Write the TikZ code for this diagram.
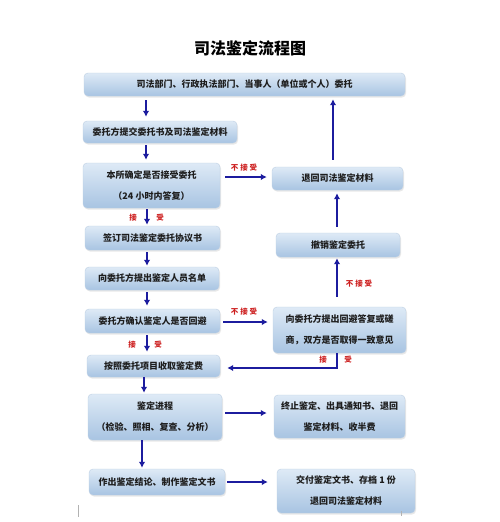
\documentclass[tikz,border=0pt]{standalone}
\usepackage{fontspec}
\setmainfont{Noto Sans CJK SC}
\newfontfamily\redfont[LetterSpace=25]{Noto Sans CJK SC}
\usetikzlibrary{arrows.meta,shadows,calc}
\definecolor{boxtop}{RGB}{222,234,246}
\definecolor{boxbot}{RGB}{168,196,226}
\definecolor{boxline}{RGB}{190,208,228}
\definecolor{arrblue}{RGB}{28,28,158}
\definecolor{lblred}{RGB}{205,30,30}
\definecolor{txt}{RGB}{30,30,30}
\tikzset{
  flowbox/.style={rectangle, rounded corners=4pt, top color=boxtop, bottom color=boxbot,
    draw=boxline, line width=0.4pt, inner sep=0pt, align=center, text=txt,
    font=\fontsize{9}{21}\selectfont\bfseries,
    drop shadow={shadow xshift=1pt, shadow yshift=-1.5pt, opacity=0.18}},
  arr/.style={draw=arrblue, line width=2.4pt, -{Latex[length=6pt,width=6.5pt]}},
  lbl/.style={text=lblred, font=\fontsize{7.5}{9}\selectfont\bfseries\redfont, inner sep=0pt},
  lblc/.style={text=lblred, font=\fontsize{7.5}{9}\selectfont\bfseries, inner sep=0pt},
}
\begin{document}
\begin{tikzpicture}[x=1pt,y=-1pt]
\useasboundingbox[fill=white] (0,0) rectangle (500,522);
% title
\node[font=\fontsize{16}{18}\selectfont\bfseries, text=black] (title) at (250,48) {司法鉴定流程图};
% left column
\node[flowbox, minimum width=321pt, minimum height=23pt] (b1) at (244.5,84.5) {司法部门、行政执法部门、当事人（单位或个人）委托};
\node[flowbox, minimum width=154pt, minimum height=22pt] (b2) at (160,132) {委托方提交委托书及司法鉴定材料};
\node[flowbox, minimum width=137pt, minimum height=45pt] (b3) at (151.5,185.5) {本所确定是否接受委托\\（24 小时内答复）};
\node[flowbox, minimum width=135pt, minimum height=24pt] (b4) at (152.5,238) {签订司法鉴定委托协议书};
\node[flowbox, minimum width=134pt, minimum height=23pt] (b5) at (152,278.5) {向委托方提出鉴定人员名单};
\node[flowbox, minimum width=135pt, minimum height=24pt] (b6) at (152.5,321) {委托方确认鉴定人是否回避};
\node[flowbox, minimum width=133pt, minimum height=22pt] (b7) at (153.5,366) {按照委托项目收取鉴定费};
\node[flowbox, minimum width=134pt, minimum height=46pt] (b8) at (155,417) {鉴定进程\\（检验、照相、复查、分析）};
\node[flowbox, minimum width=136pt, minimum height=26pt] (b9) at (157,482) {作出鉴定结论、制作鉴定文书};
% right column
\node[flowbox, minimum width=131pt, minimum height=23pt] (r1) at (337.5,178.5) {退回司法鉴定材料};
\node[flowbox, minimum width=124pt, minimum height=24pt] (r2) at (338,245) {撤销鉴定委托};
\node[flowbox, minimum width=133pt, minimum height=46pt] (r3) at (339.5,330) {向委托方提出回避答复或磋\\商，双方是否取得一致意见};
\node[flowbox, minimum width=131pt, minimum height=43pt] (r4) at (339.5,416.5) {终止鉴定、出具通知书、退回\\鉴定材料、收半费};
\node[flowbox, minimum width=138pt, minimum height=44pt] (r5) at (346,491) {交付鉴定文书、存档 1 份\\退回司法鉴定材料};
% column coordinates
\coordinate (cA) at (146,0);
\coordinate (cB) at (147,0);
\coordinate (cC) at (144,0);
\coordinate (cD) at (142,0);
\coordinate (cR) at (333,0);
\coordinate (cS) at (337,0);
% vertical arrows left
\draw[arr, shorten <=4pt, shorten >=4pt] (b1.south -| cA) -- (b2.north -| cA);
\draw[arr, shorten <=2pt, shorten >=3pt] (b2.south -| cA) -- (b3.north -| cA);
\draw[arr, shorten <=1pt, shorten >=1pt] (b3.south -| cB) -- (b4.north -| cB);
\draw[arr, shorten <=2pt, shorten >=1pt] (b4.south -| cB) -- (b5.north -| cB);
\draw[arr, shorten <=2pt, shorten >=3pt] (b5.south -| cB) -- (b6.north -| cB);
\draw[arr, shorten <=2pt, shorten >=3pt] (b6.south -| cB) -- (b7.north -| cB);
\draw[arr, shorten <=0pt, shorten >=1pt] (b7.south -| cC) -- (b8.north -| cC);
\draw[arr, shorten <=0pt, shorten >=1pt] (b8.south -| cD) -- (b9.north -| cD);
% horizontal arrows
\draw[arr, shorten <=5pt, shorten >=5pt] (b3.east |- 0,177) -- (r1.west |- 0,177);
\draw[arr, shorten <=3pt, shorten >=5pt] (b6.east |- 0,322) -- (r3.west |- 0,322);
\draw[arr, shorten <=3pt, shorten >=7pt] (b8.east |- 0,413) -- (r4.west |- 0,413);
\draw[arr, shorten <=2pt, shorten >=9pt] (b9.east |- 0,482) -- (r5.west |- 0,482);
% vertical arrows right
\draw[arr, shorten <=7pt, shorten >=3pt] (r1.north -| cR) -- (b1.south -| cR);
\draw[arr, shorten <=6pt, shorten >=3pt] (r2.north -| cS) -- (r1.south -| cS);
\draw[arr, shorten <=10pt, shorten >=1pt] (r3.north -| cS) -- (r2.south -| cS);
% return arrow
\coordinate (bend) at (337,368);
\draw[arr, shorten >=7pt] (r3.south -| cS) -- (bend) -- (b7.east |- bend);
% labels
\node[lbl] (l1) at (244,168) {不接受};
\node[lbl] (l2) at (244,312) {不接受};
\node[lbl] (l3) at (359,284) {不接受};
\node[lblc] (l4a) at (133,218) {接};
\node[lblc] (l4b) at (160,218) {受};
\node[lblc] (l5a) at (132,345) {接};
\node[lblc] (l5b) at (158,345) {受};
\node[lblc] (l6a) at (323,360) {接};
\node[lblc] (l6b) at (348,360) {受};
% small marks
\draw[gray!60, line width=0.6pt] (78,505) -- (78,517);
\draw[gray!60, line width=0.5pt] (401,511) -- (401,516);
\end{tikzpicture}
\end{document}
